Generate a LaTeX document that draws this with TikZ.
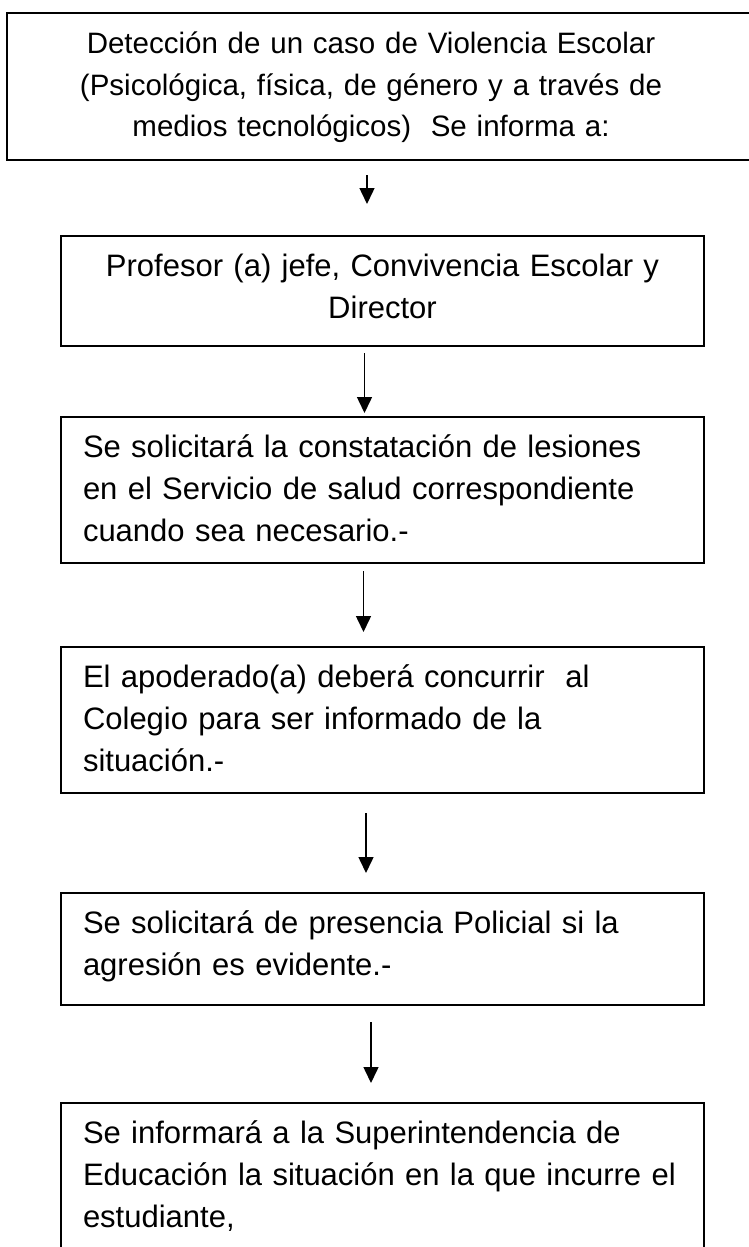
\documentclass[tikz,border=0pt]{standalone}
\usepackage{fontspec}
\setmainfont{Liberation Sans}
\usetikzlibrary{arrows.meta}
\newcommand\toprl{\rule{0pt}{40pt}}
\newcommand\botrl[1]{\rule[-#1pt]{0pt}{#1pt}}
\newcommand\ctrln[1]{\makebox[728pt][c]{#1}}
\begin{document}
\begin{tikzpicture}[x=1pt,y=-1pt,
  boxstyle/.style={draw, line width=1.6pt, rectangle, outer sep=0pt,
    inner ysep=0pt, inner xsep=22pt, text width=599pt,
    font=\fontsize{31}{42}\selectfont, anchor=north west},
  arr/.style={line width=1.5pt, -{Triangle[width=15pt,length=16pt]}}]
\useasboundingbox (0,0) rectangle (749,1247);
\clip (0,0) rectangle (749,1247);
\fill[white] (0,0) rectangle (749,1247);

\node[boxstyle, line width=2pt, inner xsep=0pt, text width=753pt, align=left,
      font=\fontsize{29.5}{42}\selectfont] (b1) at (7,13)
  {\toprl\ctrln{Detección de un caso de Violencia Escolar}\\
   \ctrln{(Psicológica, física, de género y a través de}\\
   \ctrln{medios tecnológicos)\ \ Se informa a:}\botrl{23}};

\node[boxstyle, align=center] (b2) at (61,236)
  {\toprl Profesor (a) jefe, Convivencia Escolar y\\
   Director\botrl{28}};

\node[boxstyle, align=left] (b3) at (61,417)
  {\toprl Se solicitará la constatación de lesiones\\
   en el Servicio de salud correspondiente\\
   cuando sea necesario.-\botrl{22}};

\node[boxstyle, align=left] (b4) at (61,647)
  {\toprl El apoderado(a) deberá concurrir\ \ al\\
   Colegio para ser informado de la\\
   situación.-\botrl{22}};

\node[boxstyle, align=left] (b5) at (61,893)
  {\toprl Se solicitará de presencia Policial si la\\
   agresión es evidente.-\botrl{30}};

\node[boxstyle, align=left] (b6) at (61,1103)
  {\toprl Se informará a la Superintendencia de\\
   Educación la situación en la que incurre el\\
   estudiante,\botrl{40}};

\coordinate (x1) at (367,0);
\coordinate (x2) at (364.5,0);
\coordinate (x3) at (363.5,0);
\coordinate (x4) at (366,0);
\coordinate (x5) at (371,0);

\draw[arr, shorten <=15pt, shorten >=32pt] (b1.south -| x1) -- (b2.north -| x1);
\draw[arr, shorten <=7pt, shorten >=4pt] (b2.south -| x2) -- (b3.north -| x2);
\draw[arr, shorten <=8pt, shorten >=15pt] (b3.south -| x3) -- (b4.north -| x3);
\draw[arr, shorten <=20pt, shorten >=20pt] (b4.south -| x4) -- (b5.north -| x4);
\draw[arr, shorten <=17pt, shorten >=20pt] (b5.south -| x5) -- (b6.north -| x5);
\end{tikzpicture}
\end{document}
